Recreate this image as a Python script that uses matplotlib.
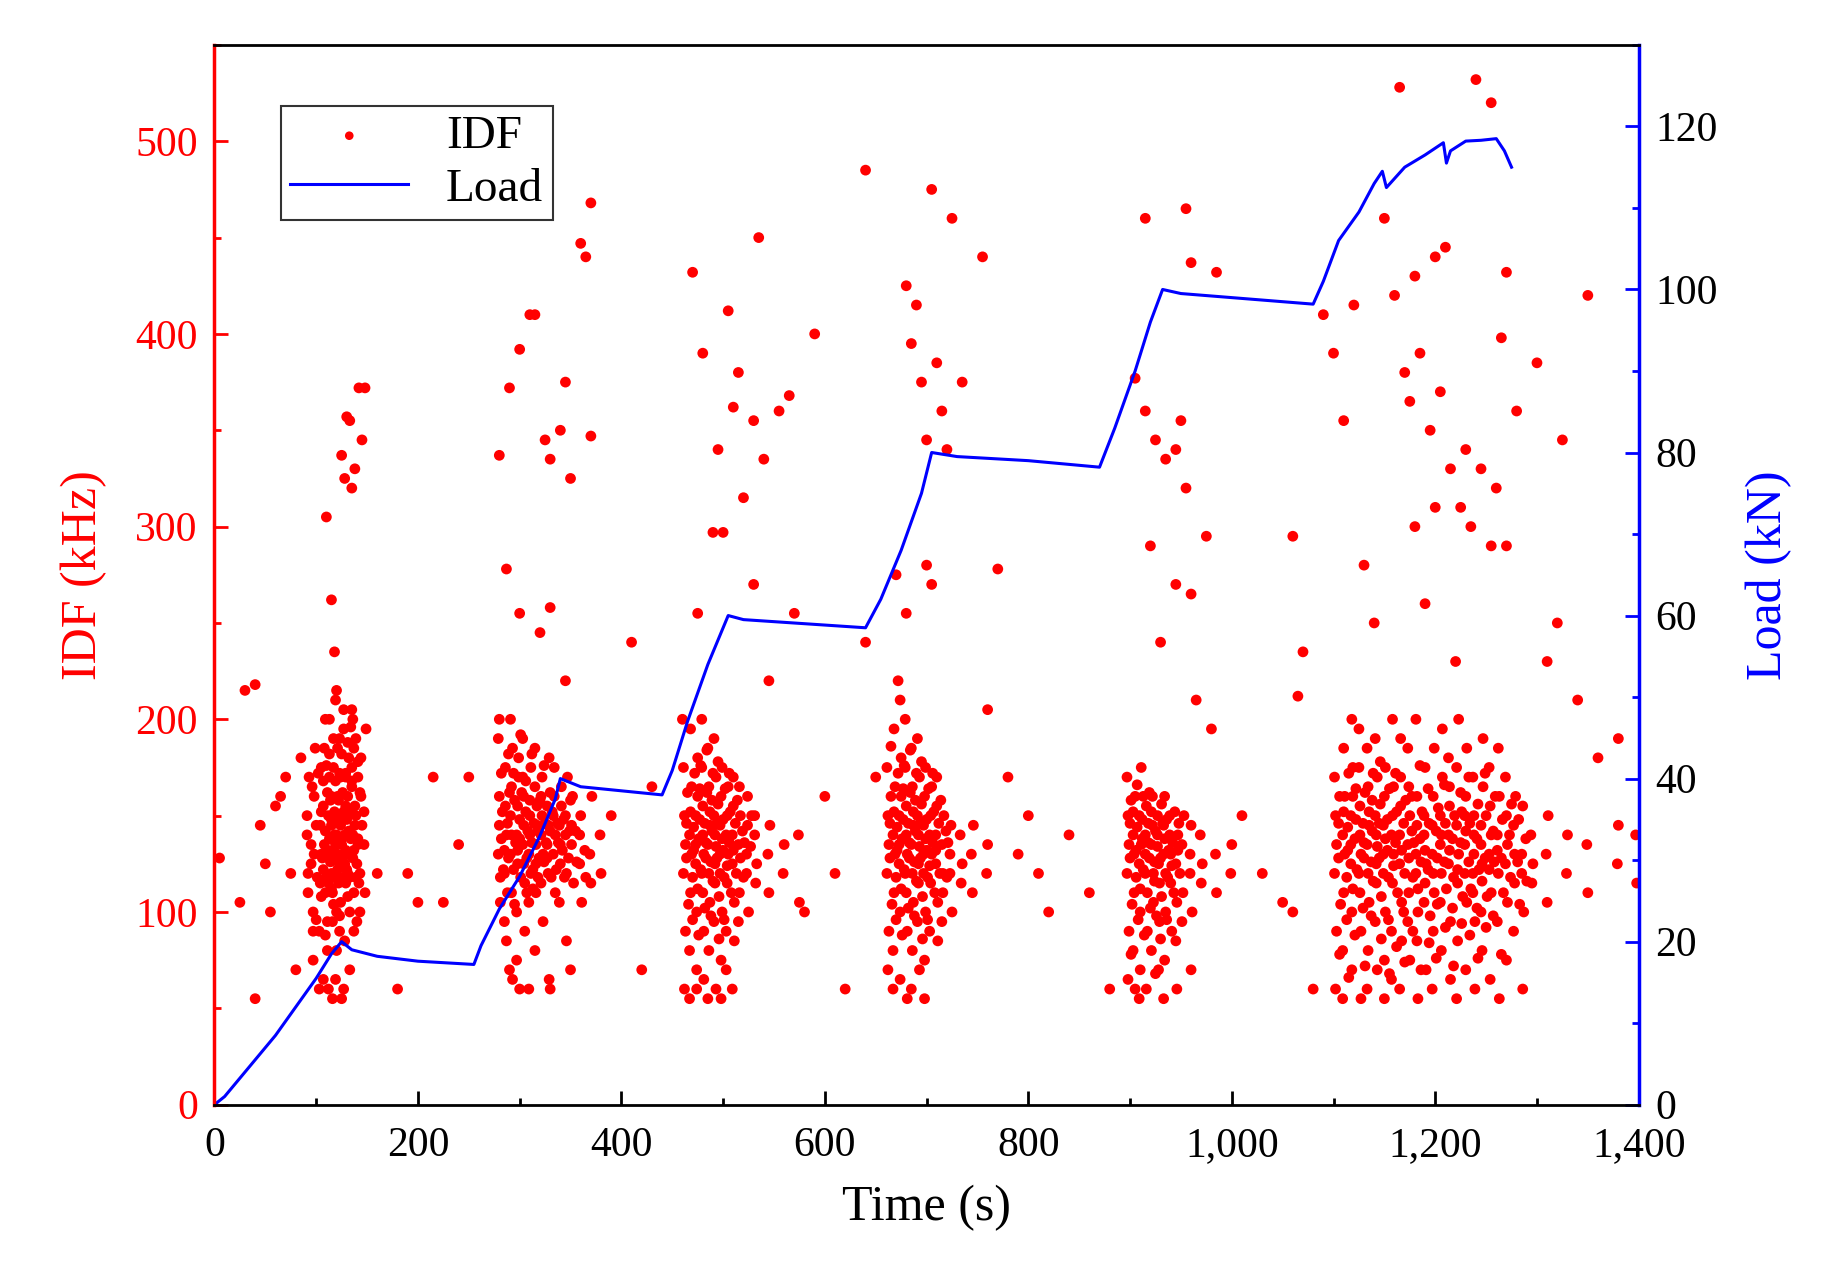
import matplotlib.pyplot as plt
from matplotlib.ticker import FuncFormatter, MultipleLocator

plt.rcParams['font.family'] = 'Liberation Serif'

# Load curve (time s, load kN)
load_t = [0, 10, 20, 40, 60, 80, 100, 115, 125, 135, 160, 200, 255, 262, 280, 300, 320, 335, 340,
          360, 400, 440, 450, 465, 485, 505, 520, 580, 640, 655, 675, 695, 705, 730, 800, 870,
          885, 905, 920, 932, 950, 1000, 1080, 1090, 1105, 1125, 1140, 1148, 1152, 1170, 1190,
          1208, 1211, 1215, 1230, 1245, 1260, 1268, 1275]
load_kn = [0, 1, 2.5, 5.5, 8.5, 12, 15.5, 18.5, 20, 19, 18.2, 17.6, 17.2, 19.5, 24, 28, 33, 37.5, 40,
           39, 38.5, 38, 41, 47, 54, 60, 59.5, 59, 58.5, 62, 68, 75, 80, 79.5, 79, 78.2,
           83, 90, 96, 100, 99.5, 99, 98.2, 101, 106, 109.5, 113, 114.5, 112.5, 115, 116.5,
           118, 115.5, 117, 118.2, 118.3, 118.5, 117, 115]

# IDF: columns of (time, [IDF values]), per burst
c1 = [(92, [150, 120, 170, 140, 110]), (96, [135, 165, 90, 125]), (98, [100, 160, 185, 75, 130]),
      (101, [145, 118, 172, 96]), (104, [90, 145, 175, 60, 115, 130]), (106, [152, 128, 168, 108]),
      (108, [65, 185, 110, 155, 135, 200, 122]), (110, [142, 118, 162, 88, 176, 132]),
      (112, [130, 60, 200, 95, 150, 170, 80, 115]), (114, [138, 158, 112, 182, 126, 148]),
      (116, [145, 95, 175, 120, 55, 190, 160, 110, 132]), (118, [128, 152, 168, 104, 140, 118]),
      (120, [210, 80, 160, 135, 100, 185, 65, 140, 122]), (122, [148, 115, 172, 130, 158, 98]),
      (124, [190, 105, 150, 125, 170, 55, 90, 145, 135]), (126, [138, 162, 118, 182, 128, 152]),
      (128, [205, 125, 170, 60, 140, 115, 195, 85, 155]), (130, [132, 148, 108, 172, 122, 188]),
      (132, [160, 130, 100, 150, 180, 70, 120, 142]), (134, [118, 138, 168, 152, 196]),
      (136, [175, 200, 90, 165, 140, 110, 205, 128]), (138, [132, 155, 118, 185, 145]),
      (140, [150, 125, 170, 190, 95, 135]), (142, [138, 115, 162, 178]),
      (144, [120, 160, 145, 100, 180]), (148, [135, 110, 195, 152])]
c2 = [(280, [130, 160, 105, 190, 145, 118]), (283, [138, 152, 122, 172]),
      (286, [120, 175, 140, 95, 155, 85, 132]), (289, [146, 128, 162, 110, 182]),
      (292, [150, 110, 185, 130, 165, 65, 200, 140]), (295, [122, 158, 136, 172, 104]),
      (298, [140, 125, 170, 100, 155, 180, 75, 132]), (301, [148, 118, 162, 138, 192]),
      (304, [135, 160, 115, 190, 145, 90, 170, 125]), (307, [152, 128, 142, 168, 110]),
      (310, [130, 150, 175, 105, 140, 120, 60, 158]), (313, [136, 122, 146, 182, 112]),
      (316, [165, 125, 145, 185, 110, 155, 80, 135]), (319, [142, 128, 158, 118]),
      (322, [140, 170, 130, 115, 150, 95, 160]), (325, [126, 146, 136, 176]),
      (328, [155, 120, 180, 135, 145, 65, 128]), (331, [142, 118, 152, 162]),
      (334, [130, 160, 110, 150, 175, 140]), (337, [122, 146, 136]),
      (340, [145, 125, 165, 105, 135, 155]), (343, [132, 148, 118]),
      (346, [150, 120, 170, 140, 85]), (349, [128, 142, 158]),
      (352, [135, 160, 115, 145]), (356, [142, 126]), (360, [125, 150, 105, 140]),
      (365, [132, 118]), (370, [130, 115, 160]), (380, [140, 120])]
c3 = [(462, [120, 150, 90, 175, 60, 135]), (465, [128, 162, 104, 146]),
      (468, [140, 110, 165, 80, 195, 130, 55, 152]), (471, [118, 144, 172, 96, 132]),
      (474, [150, 100, 180, 125, 70, 160, 135, 60, 112]), (477, [138, 164, 122, 88, 148, 176]),
      (480, [120, 155, 90, 175, 140, 65, 200, 110, 130]), (483, [146, 128, 162, 102, 136, 184]),
      (486, [135, 165, 105, 185, 80, 145, 55, 120, 152]), (489, [126, 142, 172, 98, 158, 116]),
      (492, [150, 125, 170, 95, 140, 60, 190, 115, 134]), (495, [128, 156, 108, 146, 178, 86]),
      (498, [130, 160, 100, 145, 75, 175, 120, 55, 138]), (501, [148, 118, 164, 132, 96]),
      (504, [140, 115, 165, 90, 150, 130, 70, 124]), (507, [136, 152, 110, 172]),
      (510, [125, 155, 105, 140, 170, 85, 60, 132]), (513, [146, 120, 158]),
      (516, [135, 110, 150, 95, 165, 128]), (520, [142, 118, 136]),
      (524, [120, 145, 100, 130, 160]), (528, [134, 150]), (532, [140, 115, 125, 150]),
      (545, [130, 110, 145]), (560, [120, 135]), (575, [140, 105])]
c4 = [(662, [120, 150, 90, 175, 70, 135]), (665, [128, 160, 104, 146, 186]),
      (668, [140, 110, 165, 80, 195, 130, 60, 152]), (671, [118, 144, 172, 96, 132, 220]),
      (674, [150, 100, 180, 125, 65, 160, 135, 210, 112]), (677, [138, 164, 122, 88, 148, 176]),
      (680, [120, 155, 90, 175, 140, 55, 200, 110, 130]), (683, [146, 128, 162, 102, 136, 184]),
      (686, [135, 165, 105, 185, 80, 145, 60, 120, 152]), (689, [126, 142, 172, 98, 158, 116]),
      (692, [150, 125, 170, 95, 140, 70, 190, 115, 134]), (695, [128, 156, 108, 146, 178, 86]),
      (698, [130, 160, 100, 145, 75, 175, 120, 55, 138]), (701, [148, 118, 164, 132, 96]),
      (704, [140, 115, 165, 90, 150, 130, 124]), (707, [136, 152, 110, 172]),
      (710, [125, 155, 105, 140, 170, 85, 132]), (713, [146, 120, 158]),
      (716, [135, 110, 150, 95, 120]), (720, [142, 118, 136]),
      (724, [120, 145, 100, 130]), (734, [140, 115, 125]), (745, [130, 110, 145]),
      (760, [120, 135])]
c5 = [(898, [120, 150, 90, 170, 65, 135]), (901, [128, 158, 104, 146, 78]),
      (904, [140, 110, 160, 80, 130, 60, 152]), (907, [118, 144, 96, 132, 166]),
      (910, [150, 100, 175, 125, 70, 135, 55, 112]), (913, [138, 122, 88, 148, 160]),
      (916, [120, 155, 90, 140, 60, 110, 130]), (919, [146, 128, 102, 136, 162]),
      (922, [135, 160, 105, 80, 145, 120, 152]), (925, [126, 142, 98, 116, 68]),
      (928, [150, 125, 95, 140, 70, 115, 134]), (931, [128, 108, 146, 86, 156]),
      (934, [130, 160, 100, 145, 75, 120, 55, 138]), (937, [148, 118, 132, 96]),
      (940, [140, 115, 90, 150, 130, 124]), (943, [136, 110, 152]),
      (946, [125, 105, 140, 85, 60, 132]), (949, [146, 120]),
      (952, [135, 110, 150, 95]), (960, [120, 145, 100, 130, 70]),
      (970, [140, 115, 125]), (985, [130, 110]), (1000, [120, 135])]
c6 = [(1102, [120, 150, 90, 170, 60, 135]), (1106, [128, 160, 104, 146, 78]),
      (1110, [140, 110, 160, 80, 185, 130, 55, 152]), (1114, [118, 144, 172, 96, 132, 66]),
      (1118, [150, 100, 175, 125, 70, 160, 135, 200, 112]), (1122, [138, 164, 122, 88, 148]),
      (1126, [120, 155, 90, 175, 140, 55, 195, 110, 130]), (1130, [146, 128, 162, 102, 136, 72]),
      (1134, [135, 165, 105, 185, 80, 145, 60, 120, 152]), (1138, [126, 142, 172, 98, 158, 116]),
      (1142, [150, 125, 170, 95, 140, 70, 190, 115, 134]), (1146, [128, 156, 108, 146, 178, 86]),
      (1150, [130, 160, 100, 145, 75, 175, 120, 55, 138]), (1154, [148, 118, 164, 132, 96, 68]),
      (1158, [140, 115, 165, 90, 150, 130, 65, 200, 124]), (1162, [136, 152, 110, 172, 82]),
      (1166, [125, 155, 105, 140, 170, 85, 60, 190, 132]), (1170, [146, 120, 158, 100, 74]),
      (1174, [135, 110, 150, 95, 165, 75, 185, 128]), (1178, [142, 118, 136, 160, 90]),
      (1182, [120, 145, 100, 130, 160, 55, 200, 85, 112]), (1186, [138, 126, 152, 176, 70]),
      (1190, [140, 115, 125, 150, 175, 70, 105, 132]), (1194, [122, 146, 98, 164, 84]),
      (1198, [130, 160, 110, 145, 90, 185, 60, 120]), (1202, [142, 128, 154, 76, 104]),
      (1206, [150, 120, 170, 135, 80, 195, 105, 140]), (1210, [126, 146, 112, 166, 92]),
      (1214, [125, 155, 95, 140, 165, 65, 180, 132]), (1218, [138, 118, 150, 102, 72]),
      (1222, [145, 115, 130, 175, 85, 200, 55, 122]), (1226, [136, 152, 108, 162, 94]),
      (1230, [135, 160, 105, 150, 70, 185, 120, 142]), (1234, [126, 146, 112, 170, 88]),
      (1238, [120, 150, 95, 170, 140, 60, 110, 130]), (1242, [138, 156, 122, 102, 76]),
      (1246, [145, 125, 165, 100, 80, 190, 135, 116]), (1250, [128, 150, 108, 172, 92]),
      (1254, [130, 155, 110, 175, 65, 140, 122]), (1258, [142, 126, 160, 98]),
      (1262, [140, 120, 160, 95, 185, 55, 132]), (1266, [128, 148, 110, 78]),
      (1270, [125, 150, 105, 170, 75, 135]), (1274, [140, 118, 156]),
      (1278, [145, 115, 160, 90, 130]), (1282, [126, 148, 104]),
      (1286, [130, 155, 100, 120, 60]), (1290, [138, 116]),
      (1295, [140, 115, 125]), (1310, [130, 105, 150]), (1330, [120, 140]), (1350, [135, 110]),
      (1380, [125, 145]), (1398, [140, 115])]

outliers = [(110, 305), (115, 262), (118, 235), (120, 215), (125, 337), (130, 357), (133, 355),
            (135, 320), (138, 330), (142, 372), (148, 372), (145, 345), (128, 325), (30, 215),
            (40, 218), (45, 145), (50, 125), (55, 100), (60, 155), (70, 170), (40, 55), (5, 128),
            (180, 60), (190, 120), (200, 105), (215, 170), (225, 105), (250, 170), (240, 135),
            (160, 120), (25, 105), (85, 180), (80, 70), (65, 160), (75, 120),
            (280, 337), (290, 372), (300, 392), (310, 410), (315, 410), (325, 345), (330, 335),
            (340, 350), (345, 375), (350, 325), (360, 447), (370, 468), (365, 440), (370, 347),
            (287, 278), (330, 258), (300, 255), (320, 245), (345, 220), (280, 200), (290, 70),
            (300, 60), (330, 60), (350, 70), (390, 150), (410, 240), (420, 70), (430, 165),
            (470, 432), (480, 390), (490, 297), (495, 340), (500, 297), (505, 412), (510, 362),
            (515, 380), (520, 315), (530, 355), (535, 450), (540, 335), (555, 360), (565, 368),
            (590, 400), (570, 255), (530, 270), (475, 255), (460, 200), (545, 220), (580, 100),
            (600, 160), (620, 60), (640, 240), (610, 120), (650, 170), (640, 485),
            (680, 425), (685, 395), (690, 415), (695, 375), (700, 345), (705, 475), (710, 385),
            (715, 360), (720, 340), (725, 460), (735, 375), (755, 440), (670, 275), (680, 255),
            (700, 280), (705, 270), (770, 278), (760, 205), (780, 170), (800, 150), (820, 100),
            (840, 140), (860, 110), (880, 60), (790, 130), (810, 120),
            (915, 460), (955, 465), (960, 437), (985, 432), (905, 377), (915, 360), (925, 345),
            (935, 335), (945, 340), (950, 355), (955, 320), (960, 265), (975, 295), (920, 290),
            (930, 240), (945, 270), (965, 210), (980, 195), (1010, 150), (1030, 120),
            (1050, 105), (1060, 295), (1070, 235), (1080, 60), (1060, 100), (1065, 212),
            (1165, 528), (1240, 532), (1255, 520), (1270, 432), (1265, 398), (1150, 460),
            (1160, 420), (1180, 430), (1200, 440), (1210, 445), (1170, 380), (1185, 390),
            (1195, 350), (1205, 370), (1215, 330), (1225, 310), (1235, 300), (1245, 330),
            (1255, 290), (1260, 320), (1270, 290), (1280, 360), (1300, 385), (1310, 230),
            (1320, 250), (1325, 345), (1350, 420), (1340, 210), (1360, 180), (1380, 190),
            (1130, 280), (1140, 250), (1190, 260), (1220, 230), (1180, 300), (1200, 310),
            (1100, 390), (1120, 415), (1090, 410), (1110, 355), (1175, 365), (1230, 340)]

idf_t, idf_v = [], []
for cluster in (c1, c2, c3, c4, c5, c6):
    for t, vals in cluster:
        for k, v in enumerate(vals):
            idf_t.append(t + (k % 3) - 1)
            idf_v.append(v)
for t, v in outliers:
    idf_t.append(t)
    idf_v.append(v)

fig = plt.figure(figsize=(18.33, 12.83), dpi=100)
ax = fig.add_axes([0.117, 0.139, 0.777, 0.826])
ax2 = ax.twinx()

sc = ax.scatter(idf_t, idf_v, s=60, color='red', edgecolors='none', label='IDF', zorder=3)
ln, = ax2.plot(load_t, load_kn, color='blue', lw=2.2, label='Load')

ax.set_xlim(0, 1400)
ax.set_ylim(0, 550)
ax2.set_ylim(0, 130)
ax.xaxis.set_major_locator(MultipleLocator(200))
ax.xaxis.set_major_formatter(FuncFormatter(lambda x, p: f'{int(x):,}'))
ax.yaxis.set_major_locator(MultipleLocator(100))
ax.yaxis.set_minor_locator(MultipleLocator(50))
ax2.yaxis.set_major_locator(MultipleLocator(20))
ax2.yaxis.set_minor_locator(MultipleLocator(10))
ax.xaxis.set_minor_locator(MultipleLocator(100))

fs = 30
ax.set_xlabel('Time (s)', fontsize=36, labelpad=14)
ax.set_ylabel('IDF (kHz)', fontsize=36, color='red', labelpad=20)
ax2.set_ylabel('Load (kN)', fontsize=36, color='blue', labelpad=20)
ax.tick_params(axis='x', labelsize=fs, direction='in', length=10, width=2, pad=16)
ax.tick_params(axis='x', which='minor', direction='in', length=5, width=2)
ax.tick_params(axis='y', labelsize=fs, colors='red', direction='in', length=10, width=2, pad=12)
ax.tick_params(axis='y', which='minor', colors='red', direction='in', length=5, width=2)
ax2.tick_params(axis='y', which='major', labelsize=fs, color='blue', labelcolor='black',
                direction='in', length=10, width=2, pad=12)
ax2.tick_params(axis='y', which='minor', colors='blue', direction='in', length=5, width=2)

ax2.spines['left'].set_color('red')
ax2.spines['right'].set_color('blue')
for s in ('left', 'right'):
    ax2.spines[s].set_linewidth(2.5)
for s in ('top', 'bottom'):
    ax2.spines[s].set_linewidth(2)
ax.spines['left'].set_visible(False)
ax.spines['right'].set_visible(False)

leg = ax.legend([sc, ln], ['IDF', 'Load'], loc='upper left', bbox_to_anchor=(0.03, 0.965),
                fontsize=34, frameon=True, fancybox=False, edgecolor='black', markerscale=0.8,
                handlelength=2.5, borderpad=0.2, labelspacing=0.2)
leg.get_frame().set_linewidth(1.5)
leg.set_zorder(10)

fig.savefig('out.png', dpi=100)
